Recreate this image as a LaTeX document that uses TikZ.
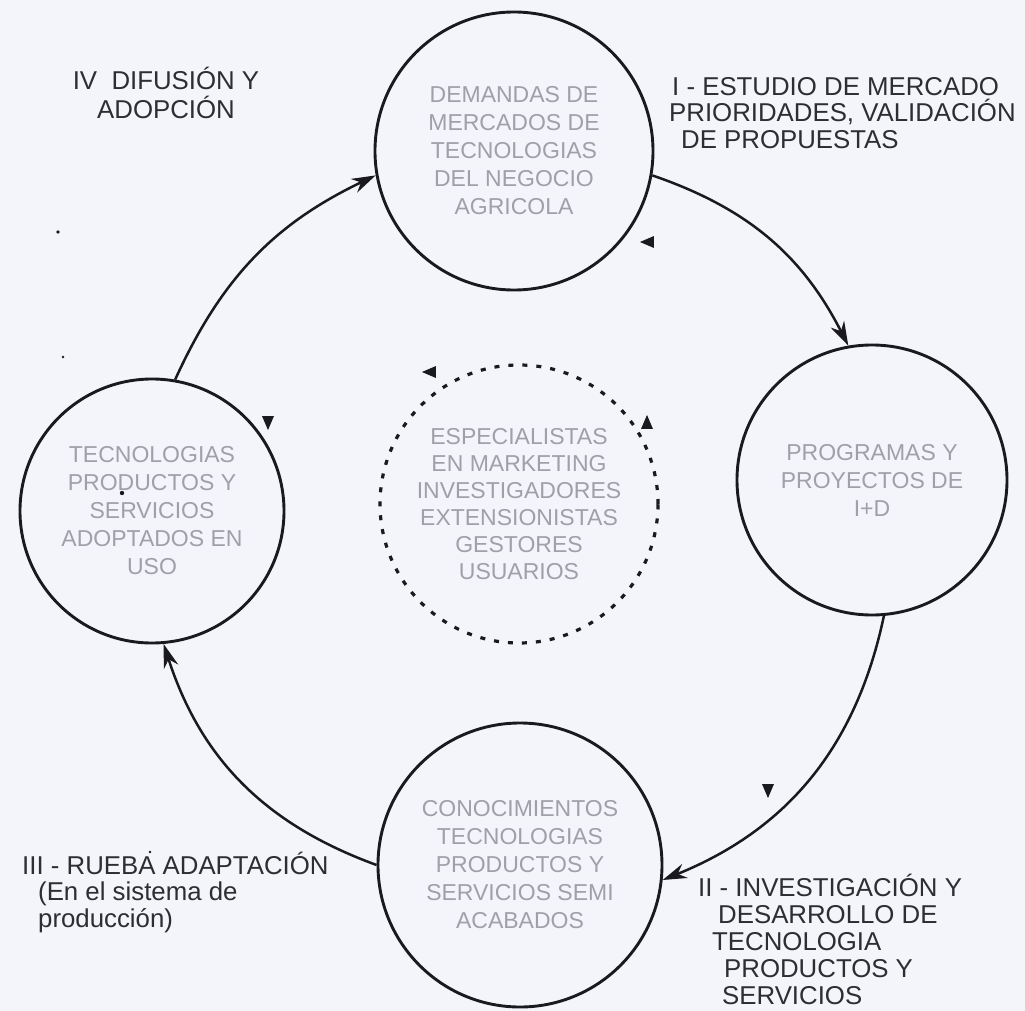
\documentclass[tikz,border=0pt]{standalone}
\usepackage{fontspec}
\setmainfont{Liberation Sans}
\usetikzlibrary{arrows.meta,shapes.geometric}
\definecolor{bg}{RGB}{243,245,251}
\definecolor{ink}{RGB}{25,25,30}
\definecolor{lbl}{RGB}{45,45,50}
\definecolor{faded}{RGB}{160,160,168}
\begin{document}
\begin{tikzpicture}[x=1pt,y=-1pt,
  stage/.style={circle,draw=ink,line width=2.9pt,inner sep=0pt,align=center,text=faded,font=\fontsize{23}{28}\selectfont},
  ring/.style={circle,draw=ink,line width=3.2pt,dash pattern=on 5pt off 9pt,inner sep=0pt,align=center,text=faded,font=\fontsize{23}{27}\selectfont},
  flow/.style={-{Stealth[length=24pt,width=15pt]},line width=2.5pt,draw=ink},
  lab/.style={text=lbl,font=\fontsize{25.8}{26.5}\selectfont,align=left,inner sep=0pt},
  tri/.style={isosceles triangle,isosceles triangle stretches,fill=ink,inner sep=0pt,minimum height=14pt,minimum width=12pt}
]
\fill[bg] (0,0) rectangle (1025,1011);
\useasboundingbox (0,0) rectangle (1025,1011);

% stage circles
\node[stage,minimum size=278pt] (top) at (514,151) {DEMANDAS DE\\MERCADOS DE\\TECNOLOGIAS\\DEL NEGOCIO\\AGRICOLA};
\node[stage,minimum size=270pt] (right) at (872,480) {PROGRAMAS Y\\PROYECTOS DE\\I+D};
\node[stage,minimum size=284pt] (bottom) at (520,865) {CONOCIMIENTOS\\TECNOLOGIAS\\PRODUCTOS Y\\SERVICIOS SEMI\\ACABADOS};
\node[stage,minimum size=264pt] (left) at (152,511) {TECNOLOGIAS\\PRODUCTOS Y\\SERVICIOS\\ADOPTADOS EN\\USO};
\node[ring,minimum size=278pt] (center) at (519,504) {ESPECIALISTAS\\EN MARKETING\\INVESTIGADORES\\EXTENSIONISTAS\\GESTORES\\USUARIOS};

% cycle arrows
\draw[flow] (top.-10) to[bend left=22] (right.100);
\draw[flow] (right.-85) to[bend left=28] (bottom.-6);
\draw[flow] (bottom.180) to[bend left=26] (left.-85);
\draw[flow] (left.80) to[bend left=20] (top.190);

% small loose arrowheads
\node[tri,shape border rotate=200] (t1) at (650,242) {};
\node[tri,shape border rotate=-90] (t2) at (268,420) {};
\node[tri,shape border rotate=165] (t3) at (432,372) {};
\node[tri,shape border rotate=90] (t4) at (647,425) {};
\node[tri,shape border rotate=-90] (t5) at (768,788) {};

% specks
\fill[ink] (58,232) circle (1.8pt);
\fill[ink] (63,357) circle (1.4pt);
\fill[ink] (122,493) circle (2.2pt);
\fill[ink] (150,852) circle (1.4pt);

% stage labels
\node[lab,align=center,font=\fontsize{25.8}{29}\selectfont] (l4) at (166,93) {IV\ \ DIFUSIÓN Y\\ADOPCIÓN};
\node[lab,anchor=west] (l1) at (669,113) {\hspace*{3pt}I - ESTUDIO DE MERCADO\\PRIORIDADES, VALIDACIÓN\\\hspace*{12pt}DE PROPUESTAS};
\node[lab,anchor=west,font=\fontsize{25.8}{27}\selectfont] (l2) at (698,939) {II - INVESTIGACIÓN Y\\\hspace*{20pt}DESARROLLO DE\\\hspace*{14pt}TECNOLOGIA\\\hspace*{26pt}PRODUCTOS Y\\\hspace*{24pt}SERVICIOS};
\node[lab,anchor=west] (l3) at (22,892) {III - RUEBA ADAPTACIÓN\\\hspace*{16pt}(En el sistema de\\\hspace*{16pt}producción)};
\end{tikzpicture}
\end{document}
